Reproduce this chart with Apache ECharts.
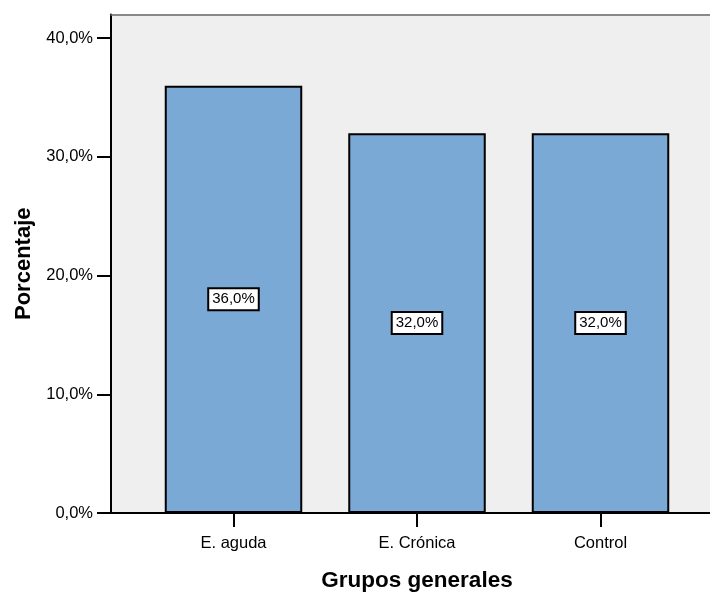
<!DOCTYPE html>
<html>
<head>
<meta charset="utf-8">
<script src="https://cdn.jsdelivr.net/npm/echarts@6/dist/echarts.min.js"></script>
<style>
html,body{margin:0;padding:0;background:#fff;}
#chart{width:710px;height:592px;}
</style>
</head>
<body>
<div id="chart"></div>
<script>
const categories = ['E. aguda', 'E. Crónica', 'Control'];
const percentages = [36.0, 32.0, 32.0];
const yTickValues = [0, 10, 20, 30, 40];
const yMax = 42;

const FONT = 'Liberation Sans, Arial, sans-serif';
const fmt = v => v.toFixed(1).replace('.', ',') + '%';

const chart = echarts.init(document.getElementById('chart'));
chart.setOption({
  animation: false,
  backgroundColor: '#ffffff',
  textStyle: { fontFamily: FONT },
  grid: [
    { left: 111, top: 14.5, right: 0, bottom: 79, show: true, backgroundColor: '#efefef', borderWidth: 0,
      containLabel: false, outerBoundsMode: 'none' },
    { left: 141.75, top: 14.5, right: 17.75, bottom: 79, containLabel: false, outerBoundsMode: 'none' }
  ],
  xAxis: [
    { gridIndex: 0, type: 'value', min: 0, max: 1, position: 'bottom',
      axisLine: { show: true, lineStyle: { color: '#000', width: 2 } },
      axisTick: { show: false }, axisLabel: { show: false }, splitLine: { show: false } },
    { gridIndex: 0, type: 'value', min: 0, max: 1, position: 'top',
      axisLine: { show: true, lineStyle: { color: '#666', width: 1.5 } },
      axisTick: { show: false }, axisLabel: { show: false }, splitLine: { show: false } },
    { gridIndex: 1, type: 'category', data: categories, position: 'bottom',
      axisLine: { show: false },
      axisTick: { show: true, alignWithLabel: true, length: 14, lineStyle: { color: '#000', width: 2 } },
      axisLabel: { color: '#000', fontSize: 16.5, fontFamily: FONT, margin: 22 },
      name: 'Grupos generales', nameLocation: 'middle', nameGap: 56,
      nameTextStyle: { color: '#000', fontSize: 22.5, fontWeight: 'bold', fontFamily: FONT } }
  ],
  yAxis: [
    { gridIndex: 0, type: 'value', min: 0, max: yMax, interval: 10,
      axisLine: { show: true, lineStyle: { color: '#000', width: 2 } },
      axisTick: { show: true, length: 14, customValues: yTickValues, lineStyle: { color: '#000', width: 2 } },
      axisLabel: { color: '#000', fontSize: 16.5, fontFamily: FONT, margin: 18, customValues: yTickValues, formatter: v => fmt(v) },
      splitLine: { show: false },
      name: 'Porcentaje', nameLocation: 'middle', nameGap: 74, nameRotate: 90,
      nameTextStyle: { color: '#000', fontSize: 22, fontWeight: 'bold', fontFamily: FONT } },
    { gridIndex: 1, type: 'value', min: 0, max: yMax, show: false }
  ],
  series: [{
    type: 'bar',
    xAxisIndex: 2, yAxisIndex: 1,
    data: percentages,
    barWidth: 137.5,
    itemStyle: { color: '#7aa9d5', borderColor: '#000', borderWidth: 2 },
    label: {
      show: true, position: 'inside', formatter: p => fmt(p.value),
      color: '#000', fontSize: 15, fontFamily: FONT,
      backgroundColor: '#fff', borderColor: '#000', borderWidth: 2,
      padding: [3, 3, 2, 3]
    }
  }]
});
</script>
</body>
</html>
